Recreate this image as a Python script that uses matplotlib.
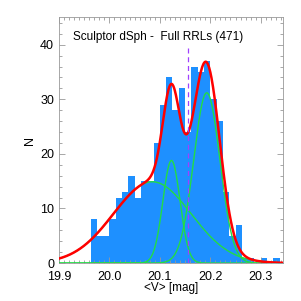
import matplotlib.pyplot as plt
import numpy as np

plt.rcParams['font.family'] = ['Liberation Sans', 'DejaVu Sans']

# histogram of mean V magnitudes (bin width 0.0125 mag)
bin_start = 19.9625
bin_width = 0.0125
counts = [8, 5, 5, 8, 12, 13, 16, 12, 15, 15, 22, 29, 34, 28, 32, 24,
          36, 35, 37, 30, 26, 13, 5, 7, 1, 1, 0, 1, 0, 1]

# gaussian components of the fit: amplitude, centre, sigma
amps = [14.9, 18.8, 31.2]
centres = [20.085, 20.123, 20.193]
sigmas = [0.077, 0.017, 0.026]

v_mean = 20.155  # dashed line

edges = bin_start + bin_width * np.arange(len(counts) + 1)

fig = plt.figure(figsize=(3.01, 3.01), dpi=100)
ax = fig.add_axes([0.196, 0.126, 0.744, 0.816])

ax.stairs(counts, edges, fill=True, color='#1e90ff', linewidth=0)

xx = np.linspace(19.9, 20.345, 600)
total = np.zeros_like(xx)
for a, m, s in zip(amps, centres, sigmas):
    g = a * np.exp(-0.5 * ((xx - m) / s) ** 2)
    total += g
    ax.plot(xx, g, color='#22dd44', lw=1.0, zorder=3)
ax.plot(xx, total, color='red', lw=1.8, zorder=4)

ax.plot([v_mean, v_mean], [0, 39.7], color='#a040ff', lw=0.9, ls=(0, (4, 3)), zorder=5)

ax.set_xlim(19.9, 20.344)
ax.set_ylim(0, 45)
ax.set_xticks([19.9, 20.0, 20.1, 20.2, 20.3])
ax.set_xticklabels(['19.9', '20.0', '20.1', '20.2', '20.3'])
ax.set_yticks([0, 10, 20, 30, 40])
ax.set_xticks(np.arange(19.9, 20.345, 0.01), minor=True)
ax.set_yticks(np.arange(0, 45, 2), minor=True)
ax.tick_params(which='both', direction='in', top=True, right=True,
               color='#999999', labelsize=9)
ax.tick_params(axis='x', which='major', pad=6)
ax.tick_params(which='major', length=4, width=0.6)
ax.tick_params(which='minor', length=2, width=0.6)
for sp in ax.spines.values():
    sp.set_color('#999999')
    sp.set_linewidth(0.6)

ax.set_xlabel('<V> [mag]', fontsize=8.5, labelpad=-1)
ax.set_ylabel('N', fontsize=9, labelpad=3)
ax.text(0.0625, 0.91, 'Sculptor dSph -  Full RRLs (471)', transform=ax.transAxes,
        fontsize=8.5)

fig.savefig('out.png', dpi=100)
